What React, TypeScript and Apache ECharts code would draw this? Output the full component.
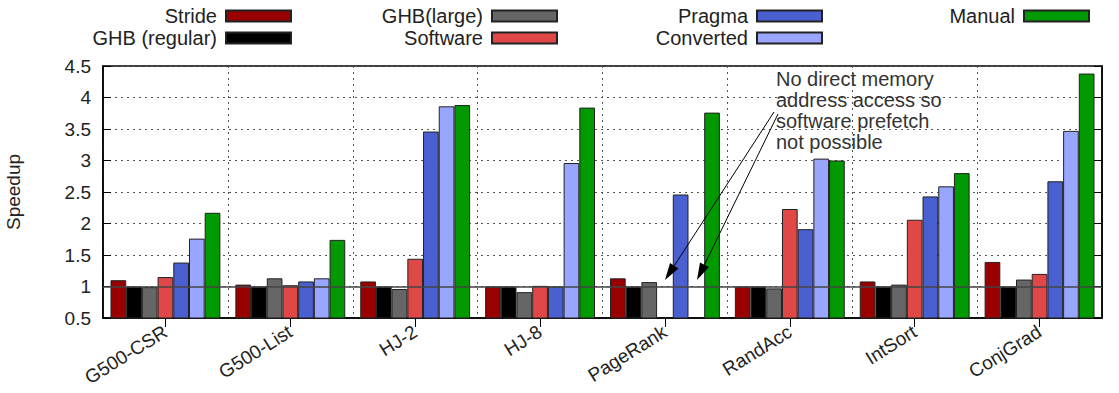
import React, { useEffect, useRef } from "react";
import * as echarts from "echarts";

const categories = ["G500-CSR", "G500-List", "HJ-2", "HJ-8", "PageRank", "RandAcc", "IntSort", "ConjGrad"];
const stride = [1.1, 1.03, 1.08, 1.0, 1.13, 1.0, 1.08, 1.39];
const ghbRegular = [1.0, 1.0, 1.0, 1.0, 1.0, 1.0, 1.0, 1.0];
const ghbLarge = [0.99, 1.13, 0.96, 0.91, 1.07, 0.97, 1.03, 1.11];
const software = [1.15, 1.02, 1.44, 1.01, null, 2.23, 2.06, 1.2];
const pragma = [1.38, 1.08, 3.46, 1.0, 2.46, 1.91, 2.43, 2.67];
const converted = [1.76, 1.13, 3.86, 2.96, null, 3.03, 2.59, 3.47];
const manual = [2.17, 1.74, 3.88, 3.84, 3.76, 3.0, 2.8, 4.38];

const seriesNames = ["Stride", "GHB (regular)", "GHB(large)", "Software", "Pragma", "Converted", "Manual"];
const seriesData = [stride, ghbRegular, ghbLarge, software, pragma, converted, manual];
const seriesColors = ["#990000", "#000000", "#666666", "#e04848", "#4a5fd0", "#98a6ff", "#009900"];

const yMin = 0.5;
const yMax = 4.5;
const yStep = 0.5;

const annotationText = "No direct memory\naddress access so\nsoftware prefetch\nnot possible";

const FONT = "'Liberation Sans', Arial, Helvetica, sans-serif";

function arrow(x1: number, y1: number, x2: number, y2: number) {
  const dx = x2 - x1;
  const dy = y2 - y1;
  const len = Math.sqrt(dx * dx + dy * dy);
  const ux = dx / len;
  const uy = dy / len;
  const hl = 17;
  const hw = 5;
  const bx = x2 - ux * hl;
  const by = y2 - uy * hl;
  return [
    { type: "line", shape: { x1, y1, x2: bx, y2: by }, style: { stroke: "#000", lineWidth: 1 }, z: 100 },
    {
      type: "polygon",
      shape: {
        points: [
          [x2, y2],
          [bx - uy * hw, by + ux * hw],
          [bx + uy * hw, by - ux * hw],
        ],
      },
      style: { fill: "#000" },
      z: 100,
    },
  ];
}

export default function App() {
  const ref = useRef<HTMLDivElement>(null);
  useEffect(() => {
    document.body.style.margin = "0";
    if (!ref.current) return;
    const chart = echarts.init(ref.current, null, { renderer: "svg" });

    const legendCols = [
      { names: ["Stride", "GHB (regular)"], right: 1119 - 292 },
      { names: ["GHB(large)", "Software"], right: 1119 - 558 },
      { names: ["Pragma", "Converted"], right: 1119 - 823 },
      { names: ["Manual"], right: 1119 - 1090 },
    ];

    const series: any[] = seriesNames.map((name, i) => ({
      name,
      type: "bar",
      data: seriesData[i],
      barGap: "0%",
      barCategoryGap: "12%",
      itemStyle: { color: seriesColors[i], borderColor: "#222", borderWidth: 1 },
      emphasis: { disabled: true },
    }));
    series[0].markLine = {
      symbol: "none",
      silent: true,
      data: [{ yAxis: 1 }],
      lineStyle: { color: "#444", width: 1.5, type: "solid" },
      label: { show: false },
      z: 10,
    };

    chart.setOption({
      animation: false,
      textStyle: { fontFamily: FONT },
      legend: legendCols.map((c) => ({
        data: c.names,
        orient: "vertical",
        align: "right",
        right: c.right,
        top: 6,
        padding: 0,
        itemGap: 2,
        itemWidth: 65,
        itemHeight: 11,
        icon: "rect",
        selectedMode: false,
        textStyle: { fontSize: 20, color: "#222", fontFamily: FONT, padding: [0, 4, 0, 0] },
      })),
      grid: {
        left: 103,
        right: 17,
        top: 66,
        bottom: 75,
        containLabel: false,
        outerBoundsMode: "none",
        show: true,
        borderColor: "#000",
        borderWidth: 1.5,
        backgroundColor: "transparent",
      },
      xAxis: {
        type: "category",
        data: categories,
        axisLine: { show: true, lineStyle: { color: "#000", width: 1.5 } },
        axisTick: { show: true, alignWithLabel: true, inside: false, length: 9, lineStyle: { color: "#000" } },
        axisLabel: { rotate: 32, fontSize: 19, color: "#222", margin: 12, fontFamily: FONT, interval: 0 },
        splitLine: { show: true, lineStyle: { color: "#555", width: 1, type: [2, 4] } },
      },
      yAxis: [
        {
          type: "value",
          min: yMin,
          max: yMax,
          interval: yStep,
          name: "Speedup",
          nameLocation: "middle",
          nameGap: 80,
          nameTextStyle: { fontSize: 19, color: "#222", fontFamily: FONT },
          axisLine: { show: true, lineStyle: { color: "#000", width: 1.5 } },
          axisTick: { show: true, inside: true, length: 8, lineStyle: { color: "#000" } },
          axisLabel: { fontSize: 19, color: "#222", margin: 12, fontFamily: FONT },
          splitLine: { show: true, lineStyle: { color: "#555", width: 1, type: [2, 4] } },
        },
        {
          type: "value",
          position: "right",
          min: yMin,
          max: yMax,
          interval: yStep,
          axisLine: { show: true, lineStyle: { color: "#000", width: 1.5 } },
          axisTick: { show: true, inside: true, length: 8, lineStyle: { color: "#000" } },
          axisLabel: { show: false },
          splitLine: { show: false },
        },
      ],
      series,
      graphic: [
        {
          type: "text",
          left: 776,
          top: 68,
          z: 100,
          style: {
            text: annotationText,
            fontSize: 20,
            lineHeight: 21,
            fill: "#333",
            fontFamily: FONT,
          },
        },
        ...arrow(774, 112, 665, 280),
        ...arrow(778, 114, 697, 280),
      ],
    });
    return () => chart.dispose();
  }, []);
  return <div ref={ref} style={{ width: 1119, height: 393 }} />;
}
